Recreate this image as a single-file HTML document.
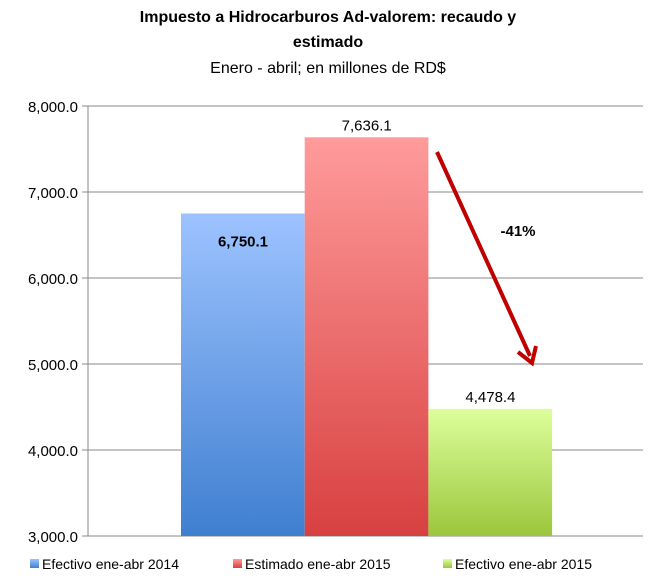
<!DOCTYPE html>
<html><head><meta charset="utf-8"><style>
body{margin:0;background:#fff;font-family:"Liberation Sans",sans-serif;}
</style></head><body>
<svg width="656" height="580" xmlns="http://www.w3.org/2000/svg">
<defs>
<linearGradient id="gb" x1="0" y1="0" x2="0" y2="1"><stop offset="0" stop-color="#9dc3ff"/><stop offset="1" stop-color="#3f7fd0"/></linearGradient>
<linearGradient id="gr" x1="0" y1="0" x2="0" y2="1"><stop offset="0" stop-color="#ff9b9b"/><stop offset="1" stop-color="#d84040"/></linearGradient>
<linearGradient id="gg" x1="0" y1="0" x2="0" y2="1"><stop offset="0" stop-color="#ddff9c"/><stop offset="1" stop-color="#9cc63c"/></linearGradient>
</defs>
<text x="328" y="22" text-anchor="middle" font-size="16" font-weight="bold">Impuesto a Hidrocarburos Ad-valorem: recaudo y</text>
<text x="328" y="47" text-anchor="middle" font-size="16" font-weight="bold">estimado</text>
<text x="328" y="73" text-anchor="middle" font-size="16">Enero - abril; en millones de RD$</text>
<g id="grid"></g><g id="bars"></g>
<line x1="88" y1="106" x2="88" y2="536" stroke="#888"/>
<line x1="437" y1="152" x2="530" y2="356" stroke="#c00000" stroke-width="4"/>
<polyline points="518,352 532,363 536,346" fill="none" stroke="#c00000" stroke-width="4"/>
<text x="518" y="236" text-anchor="middle" font-size="15" font-weight="bold">-41%</text>
<g id="legend"></g>
</svg>
<script>
const categories=["Efectivo ene-abr 2014","Estimado ene-abr 2015","Efectivo ene-abr 2015"];
const values=[6750.1,7636.1,4478.4];
const valueLabels=["6,750.1","7,636.1","4,478.4"];
const ticks=[3000,4000,5000,6000,7000,8000];
const tickLabels=["3,000.0","4,000.0","5,000.0","6,000.0","7,000.0","8,000.0"];
const fills=["url(#gb)","url(#gr)","url(#gg)"];
const ns="http://www.w3.org/2000/svg";
const y=v=>536-(v-3000)*0.086;
function mk(t,a,p,txt){const e=document.createElementNS(ns,t);for(const k in a)e.setAttribute(k,a[k]);if(txt!=null)e.textContent=txt;p.appendChild(e);return e;}
const grid=document.getElementById('grid'),bars=document.getElementById('bars'),leg=document.getElementById('legend');
ticks.forEach((t,i)=>{
 const l=mk('line',{x1:82,x2:643,y1:y(t),y2:y(t),stroke:'#888'},grid);
 
 
 const tx=mk('text',{x:78,y:y(t)+6,'text-anchor':'end','font-size':'15'},grid,tickLabels[i]);
 
 
});
values.forEach((v,i)=>{
 const x=181+i*123.7;
 const r=mk('rect',{x:x,y:y(v),width:123.7,height:536-y(v),fill:fills[i]},bars);
 
 
 const inside=i===0;
 const lb=mk('text',{x:x+62,y:inside?y(v)+33:y(v)-7,'text-anchor':'middle','font-size':'15','font-weight':inside?'bold':'normal'},bars,valueLabels[i]);
 
 
 const lx=[30,233,443][i];
 const sw=mk('rect',{x:lx,y:559,width:9,height:9,fill:fills[i]},leg);
 
 
 const lt=mk('text',{x:lx+12,y:569,'font-size':'14'},leg,categories[i]);
 
 
});
</script>
</body></html>
